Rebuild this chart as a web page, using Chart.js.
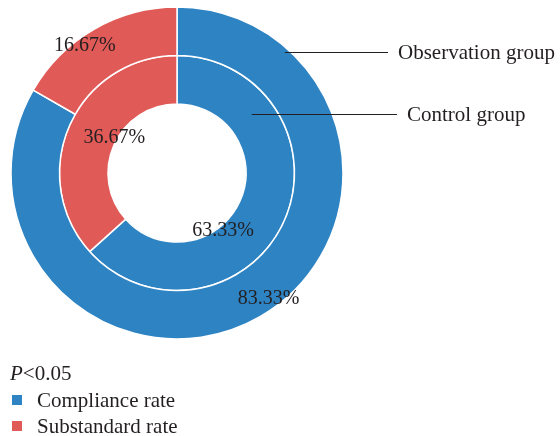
<!DOCTYPE html>
<html>
<head>
<meta charset="utf-8">
<script src="https://cdn.jsdelivr.net/npm/chart.js@4"></script>
<style>
  html, body { margin: 0; padding: 0; background: #fff; }
  #wrap { width: 560px; height: 436px; position: relative; }
</style>
</head>
<body>
<div id="wrap"><canvas id="chart"></canvas></div>
<script>
// ---- data ----
const categories = ['Compliance rate', 'Substandard rate'];
const groups = ['Observation group', 'Control group'];   // outer ring, inner ring
const observationValues = [83.33, 16.67];
const controlValues = [63.33, 36.67];
const noteText = '<0.05';

const COLORS = ['#2e83c3', '#e05a58'];
const TEXT = '#231f20';
const FONT = "'Liberation Serif', 'Times New Roman', serif";

// where each percentage sits inside its arc: fraction along the arc, fraction across the ring
const labelSpots = [
  [{ f: 0.48, r: 0.79 }, { f: 0.40, r: 0.81 }],
  [{ f: 0.62, r: 0.10 }, { f: 0.54, r: 0.06 }]
];
// callout anchor inside the blue arc of each ring, and the text x position
const callouts = [
  { f: 0.139, r: 0.92, textX: 398 },
  { f: 0.227, r: 0.54, textX: 407 }
];

function polar(arc, f, r) {
  const p = arc.getProps(['x', 'y', 'startAngle', 'endAngle', 'innerRadius', 'outerRadius'], true);
  const a = p.startAngle + f * (p.endAngle - p.startAngle);
  const rad = p.innerRadius + r * (p.outerRadius - p.innerRadius);
  return { x: p.x + Math.cos(a) * rad, y: p.y + Math.sin(a) * rad };
}

const annotate = {
  id: 'annotate',
  afterDatasetsDraw(chart) {
    const ctx = chart.ctx;
    ctx.save();
    ctx.fillStyle = TEXT;
    ctx.strokeStyle = TEXT;

    // percentages
    ctx.font = '20px ' + FONT;
    ctx.textAlign = 'center';
    ctx.textBaseline = 'middle';
    chart.data.datasets.forEach((ds, di) => {
      chart.getDatasetMeta(di).data.forEach((arc, i) => {
        const pt = polar(arc, labelSpots[di][i].f, labelSpots[di][i].r);
        ctx.fillText(ds.data[i].toFixed(2) + '%', pt.x, pt.y);
      });
    });

    // group callouts
    ctx.font = '21px ' + FONT;
    ctx.textAlign = 'left';
    ctx.lineWidth = 1.2;
    chart.data.datasets.forEach((ds, di) => {
      const c = callouts[di];
      const pt = polar(chart.getDatasetMeta(di).data[0], c.f, c.r);
      const y = Math.round(pt.y) + 0.5;
      ctx.beginPath();
      ctx.moveTo(pt.x, y);
      ctx.lineTo(c.textX - 10, y);
      ctx.stroke();
      ctx.fillText(ds.label, c.textX, y + 1);
    });

    // legend block
    ctx.textBaseline = 'alphabetic';
    ctx.font = 'italic 21px ' + FONT;
    ctx.fillText('P', 10, 380);
    const pw = ctx.measureText('P').width;
    ctx.font = '21px ' + FONT;
    ctx.fillText(noteText, 10 + pw, 380);
    categories.forEach((cat, i) => {
      const base = 407 + i * 26;
      ctx.fillStyle = COLORS[i];
      ctx.fillRect(12, base - 12, 10, 10);
      ctx.fillStyle = TEXT;
      ctx.fillText(cat, 37, base);
    });
    ctx.restore();
  }
};

new Chart(document.getElementById('chart'), {
  type: 'doughnut',
  data: {
    labels: categories,
    datasets: [
      { label: groups[0], data: observationValues },
      { label: groups[1], data: controlValues }
    ].map(ds => ({
      ...ds,
      backgroundColor: COLORS,
      borderColor: '#ffffff',
      borderWidth: 1.5,
      hoverOffset: 0
    }))
  },
  options: {
    responsive: true,
    maintainAspectRatio: false,
    animation: false,
    cutout: 69,
    layout: { padding: { left: 10.25, top: 6.25, right: 216.25, bottom: 96.25 } },
    plugins: {
      legend: { display: false },
      tooltip: { enabled: false }
    }
  },
  plugins: [annotate]
});
</script>
</body>
</html>
